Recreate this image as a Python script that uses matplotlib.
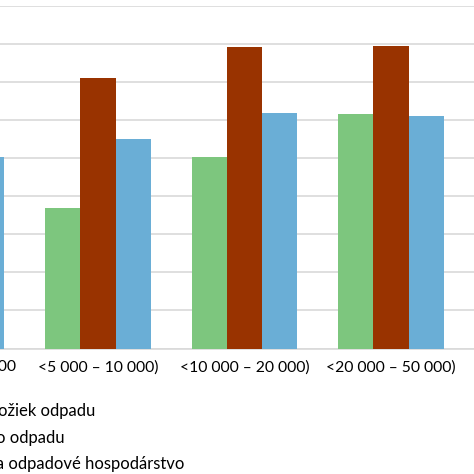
import numpy as np
import matplotlib.pyplot as plt
from matplotlib.patches import Patch

plt.rcParams['font.family'] = ['Lato', 'DejaVu Sans']

categories = ['malé obce < 5 000', '<5 000 – 10 000)', '<10 000 – 20 000)', '<20 000 – 50 000)']
zlozky = [15.0, 18.5, 25.1, 30.8]
mnozstvo = [30.0, 35.6, 39.6, 39.8]
vydavky = [25.2, 27.5, 31.0, 30.6]
labels = ['Počet všetkých zložiek odpadu',
          'Celkové množstvo odpadu',
          'Výdavky na zber a odpadové hospodárstvo']
colors = ['#7dc67e', '#993300', '#6aaed6']

fig = plt.figure(figsize=(4.74, 4.74), dpi=100)
ax = fig.add_axes([0, 1 - 348.5/474, 1, (348.5 - 6)/474])

x = np.arange(len(categories))
w = 0.241
for i, (vals, col) in enumerate(zip([zlozky, mnozstvo, vydavky], colors)):
    ax.bar(x + (i - 1)*w, vals, width=w, color=col, zorder=3)

ax.set_yticks(np.arange(0, 46, 5))
ax.set_xticks(x)
ax.set_xticklabels([])
ax.set_ylim(0, 45)
ax.set_xlim(0.331, 3.567)
# category labels drawn as text so the half-hidden first one still shows
for xi, cat in zip(x, categories):
    ax.text(xi, -0.035, cat, transform=ax.get_xaxis_transform(), ha='center',
            va='top', fontsize=11.3, clip_on=False)
ax.tick_params(axis='x', length=0)
ax.tick_params(axis='y', length=0, labelleft=False)
ax.grid(axis='y', color='#d9d9d9', linewidth=1.2, zorder=0)
for s in ['top', 'right', 'left']:
    ax.spines[s].set_visible(False)
ax.spines['bottom'].set_color('#d9d9d9')
ax.spines['bottom'].set_linewidth(1.2)

handles = [Patch(color=c) for c in colors]
fig.legend(handles, labels, loc='upper left', bbox_to_anchor=(-0.329, 0.163),
           frameon=False, fontsize=12, labelspacing=0.62, handlelength=0.7,
           borderaxespad=0, handletextpad=0.5)

fig.savefig('out.png', dpi=100)
